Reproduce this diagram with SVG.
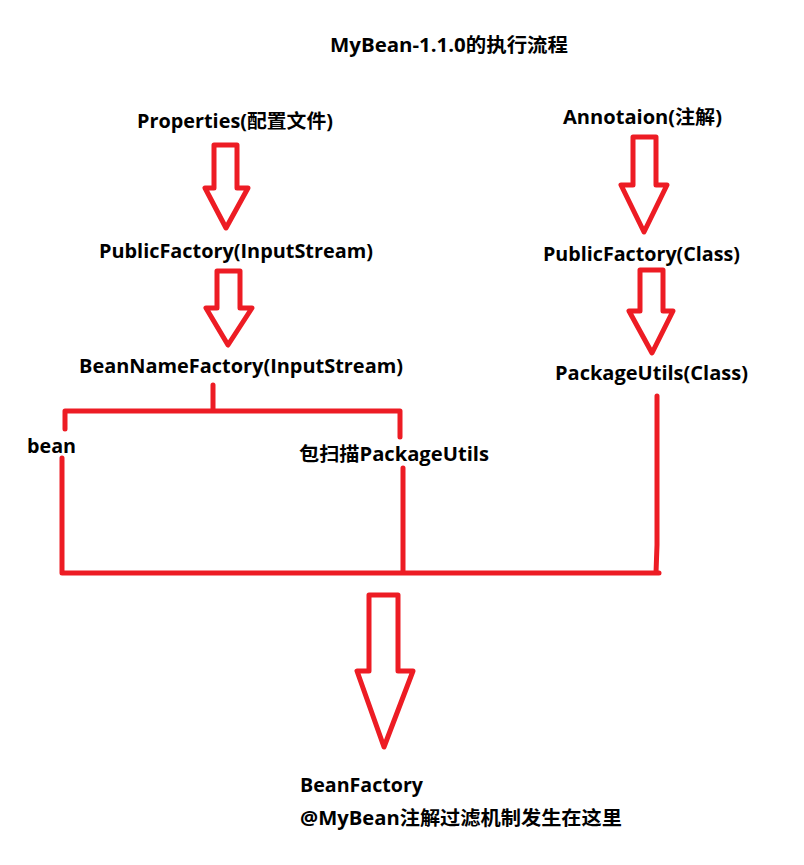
<svg xmlns="http://www.w3.org/2000/svg" width="804" height="865" viewBox="0 0 804 865">
<style>
.t{font-family:"Open Sans","Noto Sans CJK SC",sans-serif;font-weight:bold;font-size:19px;fill:#000}
.a{fill:none;stroke:#ED1C24;stroke-width:5;stroke-linejoin:round}
.l{fill:none;stroke:#ED1C24;stroke-width:5;stroke-linecap:round;stroke-linejoin:round}
</style>
<rect width="804" height="865" fill="#fff"/>
<g id="title"><text class="t" x="330" y="52" textLength="238" lengthAdjust="spacingAndGlyphs">MyBean-1.1.0的执行流程</text></g>
<g id="properties"><text class="t" x="137" y="128" textLength="196" lengthAdjust="spacingAndGlyphs">Properties(配置文件)</text></g>
<g id="publicFactoryIS"><text class="t" x="99" y="258" textLength="274" lengthAdjust="spacingAndGlyphs">PublicFactory(InputStream)</text></g>
<g id="beanNameFactory"><text class="t" x="79" y="373" textLength="324" lengthAdjust="spacingAndGlyphs">BeanNameFactory(InputStream)</text></g>
<g id="annotation"><text class="t" x="563" y="124" textLength="159" lengthAdjust="spacingAndGlyphs">Annotaion(注解)</text></g>
<g id="publicFactoryClass"><text class="t" x="543" y="261" textLength="197" lengthAdjust="spacingAndGlyphs">PublicFactory(Class)</text></g>
<g id="packageUtilsClass"><text class="t" x="555" y="380" textLength="193" lengthAdjust="spacingAndGlyphs">PackageUtils(Class)</text></g>
<g id="bean"><text class="t" x="27" y="453" textLength="49" lengthAdjust="spacingAndGlyphs">bean</text></g>
<g id="packageScan"><text class="t" x="299" y="461" textLength="190" lengthAdjust="spacingAndGlyphs">包扫描PackageUtils</text></g>
<g id="beanFactory">
<text class="t" x="300" y="792" textLength="123" lengthAdjust="spacingAndGlyphs">BeanFactory</text>
<text class="t" x="300" y="825" textLength="322" lengthAdjust="spacingAndGlyphs">@MyBean注解过滤机制发生在这里</text>
</g>
<g id="connectors">
<polygon class="a" points="214,145 237,145 237,188 248,188 226,228 205,188 214,188"/>
<polygon class="a" points="217,271 240,271 240,308 252,308 228,345 206,308 217,308"/>
<polygon class="a" points="633,137 656,137 656,185 667,185 644,232 621,185 633,185"/>
<polygon class="a" points="640,270 663,270 663,311 673,311 652,353 629,311 640,311"/>
<polygon class="a" points="369,595 398,595 398,671 413,671 384,747 357,671 369,671"/>
<path class="l" d="M213,385 V411 M65,429 V411 H400 V437"/>
<path class="l" d="M62,458 V573 M403,468 V573 M657,396 V545 L656,573 M62,573 H659"/>
</g>
</svg>
